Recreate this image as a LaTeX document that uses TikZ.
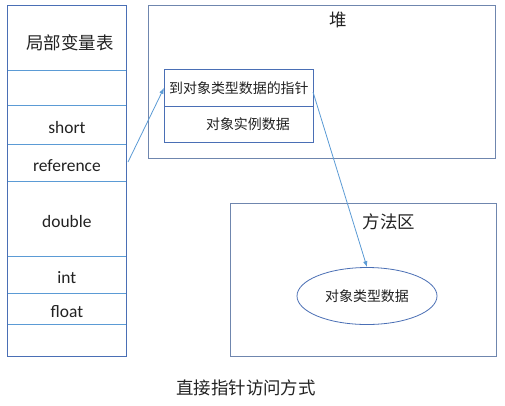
\documentclass[tikz,border=0pt]{standalone}
\usepackage{fontspec}
\setmainfont{Carlito}
\newfontfamily\cjk{Noto Sans CJK SC}
\usetikzlibrary{arrows.meta,shapes.geometric}
\definecolor{frameblue}{HTML}{4A6FB5}
\definecolor{rowblue}{HTML}{5B9BD5}
\definecolor{heapgray}{HTML}{6F86AE}
\definecolor{txt}{HTML}{222222}
\newcommand\lowr[1]{\raisebox{-2.5bp}[\height][\depth]{#1}}
\tikzset{
  cell/.style={draw=rowblue, line width=0.8pt, rectangle, minimum width=119bp, anchor=north west, inner sep=0pt, font=\fontsize{17.5}{19}\selectfont, text=txt},
  area/.style={draw=heapgray, line width=0.9pt, rectangle, anchor=north west, inner sep=0pt},
  field/.style={draw=frameblue, line width=0.8pt, rectangle, anchor=north west, minimum width=149bp, inner sep=0pt, font=\cjk\fontsize{14}{16}\selectfont, text=txt},
  lbl/.style={font=\cjk\fontsize{17.5}{19}\selectfont, text=txt, inner sep=0pt},
  conn/.style={draw=rowblue, line width=0.8pt, -{Latex[length=6pt,width=4.5pt]}}
}
\begin{document}
\begin{tikzpicture}[x=1bp,y=-1bp]
\useasboundingbox[fill=white] (0,0) rectangle (505,405);
% local variable table
\node[cell, minimum height=65bp] (c0) at (7,5) {};
\node[lbl] (t0) at (70,43) {局部变量表};
\node[cell, minimum height=35bp] (c1) at (7,70) {};
\node[cell, minimum height=39bp] (c2) at (7,105) {\lowr{short}};
\node[cell, minimum height=37bp] (c3) at (7,144) {\lowr{reference}};
\node[cell, minimum height=75bp] (c4) at (7,181) {\lowr{double}};
\node[cell, minimum height=37bp] (c5) at (7,256) {\lowr{int}};
\node[cell, minimum height=31bp] (c6) at (7,293) {\lowr{float}};
\node[cell, minimum height=32bp] (c7) at (7,324) {};
\node[draw=frameblue, line width=0.9pt, rectangle, anchor=north west, minimum width=119bp, minimum height=351bp, inner sep=0pt] (tab) at (7,5) {};
% heap
\node[area, minimum width=347bp, minimum height=153bp] (heap) at (148,5) {};
\node[lbl] (heapt) at (338,20) {堆};
\node[field, minimum height=37bp] (ptr) at (164,69) {到对象类型数据的指针};
\node[field, minimum height=36bp] (inst) at (164,106) {\hspace*{18bp}对象实例数据};
% method area
\node[area, minimum width=266bp, minimum height=153bp] (meth) at (230,203) {};
\node[lbl] (metht) at (389,222) {方法区};
\node[draw=frameblue, line width=0.8pt, ellipse, minimum width=140bp, minimum height=57bp, inner sep=0pt, font=\cjk\fontsize{14}{16}\selectfont, text=txt] (cls) at (367,296) {对象类型数据};
% caption
\node[lbl] (cap) at (246,388) {直接指针访问方式};
% connectors
\coordinate (a1) at (128,162);
\draw[conn] (a1) -- (ptr.west);
\coordinate (a2) at (313,92);
\draw[conn] (a2) -- (cls.north);
\end{tikzpicture}
\end{document}
